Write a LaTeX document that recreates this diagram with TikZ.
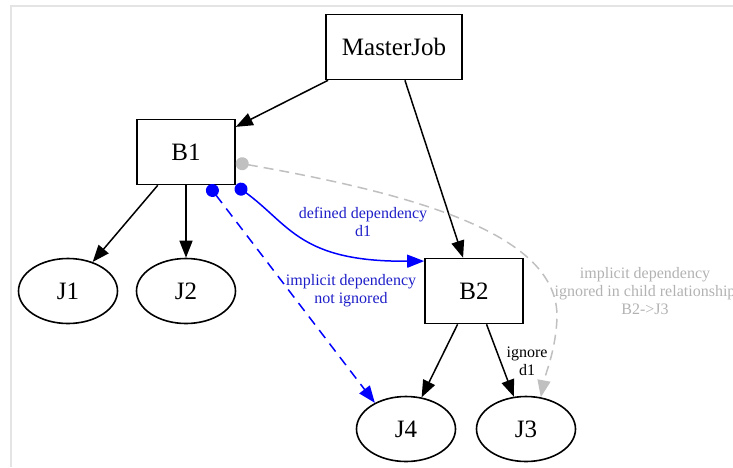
\documentclass[tikz,border=0pt]{standalone}
\usepackage{fontspec}
\setmainfont{Liberation Serif}
\definecolor{depblue}{RGB}{0, 0, 255}
\definecolor{deptext}{RGB}{30, 30, 200}
\definecolor{depgray}{RGB}{192, 192, 192}
\definecolor{graytext}{RGB}{178, 178, 178}
\definecolor{framegray}{RGB}{228, 228, 228}
\usetikzlibrary{shapes.geometric,arrows.meta,positioning}

\begin{document}
\begin{tikzpicture}[x=0.5pt, y=-0.5pt,
        jobbox/.style={draw, line width=0.8pt, inner sep=0pt, minimum height=32.5pt, font=\fontsize{12.5}{14}\selectfont},
        jobleaf/.style={draw, ellipse, line width=0.8pt, inner sep=0pt, minimum width=49.5pt, minimum height=32.5pt, font=\fontsize{12.5}{14}\selectfont},
        tri/.style={-{Triangle[length=8.5pt, width=6.5pt]}, line width=0.75pt},
        dotarr/.style={{Circle[length=6.5pt]}-{Triangle[length=8.5pt, width=6.5pt]}, line width=0.75pt},
        edgelabel/.style={align=center, inner sep=0pt, font=\fontsize{8}{9}\selectfont}]
        \useasboundingbox (0, 0) rectangle (733, 467);
        % Frame
        \draw[framegray, line width=1pt] (11, 467) -- (11, 6) -- (733, 6);

        % Batches
        \node[jobbox, minimum width=68pt] (master) at (394, 47) {MasterJob};
        \node[jobbox, minimum width=49pt] (B1) at (186, 152) {B1};
        \node[jobbox, minimum width=49pt] (B2) at (474, 291) {B2};

        % Jobs
        \node[jobleaf] (J1) at (68, 291) {J1};
        \node[jobleaf] (J2) at (186, 291) {J2};
        \node[jobleaf] (J4) at (406, 429) {J4};
        \node[jobleaf] (J3) at (526, 429) {J3};

        % Children
        \draw[tri] (master) -- (B1);
        \draw[tri] (master) -- (B2);
        \draw[tri] (B1) -- (J1);
        \draw[tri] (B1) -- (J2);
        \draw[tri] (B2) -- (J4);
        \draw[tri] (B2) -- (J3);
        \node[edgelabel] (ignorelbl) at (527, 361) {ignore\\d1};

        % Dependencies
        \draw[dotarr, depblue] (B1.south east) .. controls (290, 225) and (300, 262) .. (B2.149);
        \node[edgelabel, text=deptext] (definedlbl) at (363, 222) {defined dependency\\d1};

        \draw[dotarr, depblue, dash pattern=on 5pt off 3.5pt] (B1.-56) -- (J4.140);
        \node[edgelabel, text=deptext] (implicitlbl) at (351, 291) {implicit dependency\\not ignored};

        \draw[dotarr, depgray, dash pattern=on 5pt off 3pt] (B1.-12) .. controls (420, 195) and (558, 235) .. (557, 317) .. controls (556, 350) and (545, 375) .. (J3.65);
        \node[edgelabel, text=graytext] (ignoredlbl) at (645, 291) {implicit dependency\\ignored in child relationship\\B2->J3};
    \end{tikzpicture}
\end{document}
